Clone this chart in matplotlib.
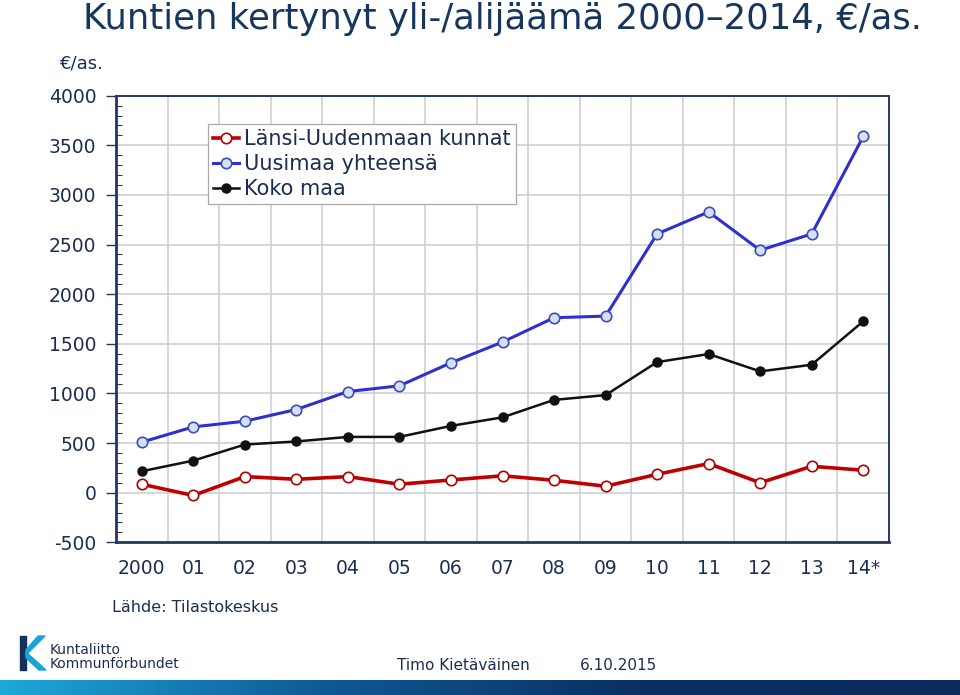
import matplotlib
matplotlib.use("Agg")
import matplotlib.pyplot as plt
import numpy as np
from matplotlib.patches import Polygon, Rectangle
from matplotlib.colors import LinearSegmentedColormap

years = ["2000", "01", "02", "03", "04", "05", "06", "07", "08", "09", "10", "11", "12", "13", "14*"]
lansi = [85, -28, 162, 135, 162, 85, 128, 170, 125, 65, 185, 293, 100, 266, 226]
uusimaa = [509, 663, 720, 838, 1019, 1077, 1309, 1518, 1763, 1779, 2607, 2829, 2443, 2607, 3589]
koko = [216, 323, 485, 516, 562, 562, 673, 759, 935, 983, 1316, 1397, 1222, 1289, 1727]
series_names = ["Länsi-Uudenmaan kunnat", "Uusimaa yhteensä", "Koko maa"]
yticks = [-500, 0, 500, 1000, 1500, 2000, 2500, 3000, 3500, 4000]

NAVY = "#1B2E52"
TITLE = "#17365D"
SPINE = "#24375E"
GRID = "#C9CED4"

plt.rcParams['font.family'] = ['DejaVu Sans']
plt.rcParams['axes.unicode_minus'] = False

W, H = 960, 695
fig = plt.figure(figsize=(W / 100, H / 100), dpi=100)
ax = fig.add_axes([116 / W, 1 - 542.3 / H, (889 - 116) / W, (542.3 - 95.7) / H])

x = np.arange(len(years))
ax.plot(x, lansi, color="#C00000", lw=2.6, marker="o", ms=7.5, mfc="white",
        mec="#B00000", mew=1.2, label=series_names[0], zorder=4, clip_on=False)
ax.plot(x, uusimaa, color="#2F2FD0", lw=2.2, marker="o", ms=7.5, mfc="#D6E0F5",
        mec="#3A4FB8", mew=1.2, label=series_names[1], zorder=4, clip_on=False)
ax.plot(x, koko, color="#111111", lw=1.8, marker="o", ms=6.5, mfc="#111111",
        mec="#111111", label=series_names[2], zorder=4, clip_on=False)

ax.set_xlim(-0.5, len(years) - 0.5)
ax.set_ylim(-500, 4000)
ax.set_yticks(yticks)
ax.set_yticks(np.arange(-500, 4001, 100), minor=True)
ax.set_xticks(x)
ax.set_xticklabels(years)
ax.set_xticks(np.arange(0.5, len(years) - 1, 1), minor=True)

ax.tick_params(axis="y", which="major", direction="out", length=7, width=1, color=SPINE,
               labelsize=13.5, labelcolor=NAVY, pad=7)
ax.tick_params(axis="y", which="minor", direction="in", length=4, width=0.8, color=SPINE)
ax.tick_params(axis="x", which="major", length=0, labelsize=13.5, labelcolor=NAVY, pad=12)
ax.tick_params(axis="x", which="minor", direction="in", length=0)

ax.grid(True, axis="y", which="major", color=GRID, lw=1.1, zorder=0)
ax.grid(True, axis="x", which="minor", color=GRID, lw=1.1, zorder=0)
for s in ax.spines.values():
    s.set_color(SPINE)
ax.spines["left"].set_linewidth(2.0)
ax.spines["bottom"].set_linewidth(2.0)
ax.spines["top"].set_linewidth(1.4)
ax.spines["right"].set_linewidth(1.4)

leg = ax.legend(loc="upper left", bbox_to_anchor=(208 / W, 1 - 124 / H),
                bbox_transform=fig.transFigure, fontsize=15, frameon=True,
                fancybox=False, edgecolor="#AAAAAA", framealpha=1, handlelength=1.25,
                handletextpad=0.25, labelspacing=0.24, borderpad=0.25, borderaxespad=0)
leg.get_frame().set_linewidth(0.9)
for t in leg.get_texts():
    t.set_color(NAVY)

fig.text(83 / W, 1 - 19 / H, "Kuntien kertynyt yli-/alijäämä 2000\u20132014, €/as.",
         fontsize=25.5, color=TITLE, va="center", ha="left")
fig.text(104 / W, 1 - 63 / H, "€/as.", fontsize=13, color=NAVY, va="center", ha="right")
fig.text(112 / W, 1 - 608 / H, "Lähde: Tilastokeskus", fontsize=11.5, color=NAVY,
         va="center", ha="left")
fig.text(397 / W, 1 - 666 / H, "Timo Kietäväinen", fontsize=11, color=NAVY,
         va="center", ha="left")
fig.text(580 / W, 1 - 666 / H, "6.10.2015", fontsize=11, color=NAVY,
         va="center", ha="left")

# logo
def fy(py):
    return 1 - py / H
fig.patches.append(Rectangle((20 / W, fy(670)), 6 / W, 34 / H, transform=fig.transFigure,
                             color="#16305C", zorder=3))
fig.patches.append(Polygon([(26 / W, fy(655)), (45 / W, fy(636)), (38 / W, fy(636)),
                            (26 / W, fy(650))], closed=True, transform=fig.transFigure,
                           color="#1BA3D6", zorder=3))
fig.patches.append(Polygon([(26 / W, fy(652)), (46 / W, fy(670)), (39 / W, fy(670)),
                            (26 / W, fy(658))], closed=True, transform=fig.transFigure,
                           color="#1BA3D6", zorder=3))
fig.text(50 / W, fy(650), "Kuntaliitto", fontsize=10, color=NAVY, va="center", ha="left")
fig.text(50 / W, fy(664), "Kommunförbundet", fontsize=10, color=NAVY, va="center", ha="left")

# gradient bar
gax = fig.add_axes([0, 0, 1, 15 / H])
grad = np.linspace(0, 1, 256)
cmap = LinearSegmentedColormap.from_list("g", ["#1EA8DA", "#0F5A95", "#0B2F62", "#0A2A5A"])
gax.imshow(grad[np.newaxis, :], aspect="auto", cmap=cmap, extent=[0, 1, 0, 1])
gax.set_axis_off()

fig.savefig("out.png", dpi=100)
